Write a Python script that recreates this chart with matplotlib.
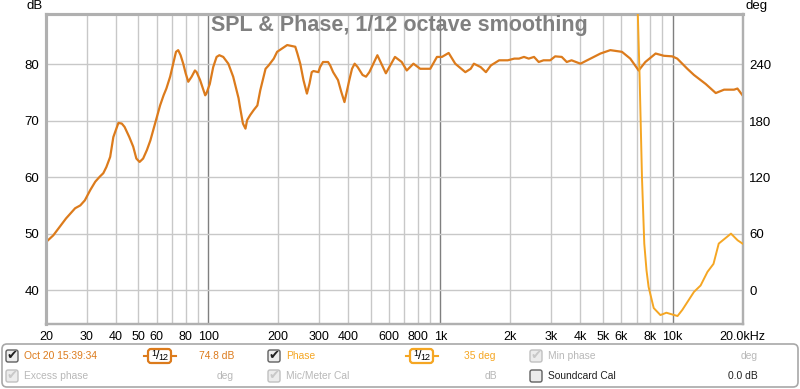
import matplotlib
matplotlib.use('Agg')
import matplotlib.pyplot as plt
from matplotlib.patches import FancyBboxPatch
from matplotlib.ticker import NullLocator

plt.rcParams['font.family'] = ['Liberation Sans', 'DejaVu Sans']

# SPL curve (Hz, dB)
spl_freq = [20, 21.5, 22.9, 24.4, 26.7, 28.1, 29.4, 31.0, 32.6, 34.1, 35.3, 36.4,
            37.8, 39.0, 41.0, 42.4, 43.6, 45.7, 47.5, 49.0, 50.6, 52.4, 54.4, 56.3,
            59.0, 62.0, 64.2, 66.0, 68.5, 70.6, 72.6, 74.2, 76.0, 78.0, 79.9, 82.0,
            84.8, 87.6, 89.1, 92.2, 94.8, 97.0, 98.1, 101.5, 105, 108.6, 111.6, 116,
            122, 128, 135, 137, 141, 144.6, 147, 151.5, 157, 162.7, 167.5, 176.5, 182,
            191.5, 197.9, 208, 218.7, 230, 237, 242, 249, 257, 266, 273, 279, 284,
            298, 303, 312, 328, 335, 345, 362, 374, 386, 405, 416, 427, 440, 462, 478,
            494, 510, 535, 582, 637, 681, 716, 765, 818, 904, 966, 1015, 1085, 1158,
            1280, 1350, 1393, 1490, 1570, 1650, 1790, 1950, 2080, 2180, 2290, 2400,
            2530, 2650, 2780, 2970, 3120, 3330, 3500, 3670, 4010, 4430, 4890, 5390,
            6050, 6570, 7140, 7630, 8450, 9170, 9960, 10470, 11570, 12360, 13890,
            15340, 16660, 18390, 19020, 20000]
spl_db = [48.5, 49.7, 51.2, 52.7, 54.5, 55.0, 55.9, 57.7, 59.2, 60.1, 60.7, 61.8,
          63.6, 67.1, 69.6, 69.5, 68.9, 67.1, 65.4, 63.3, 62.7, 63.3, 64.8, 66.5,
          69.5, 72.7, 74.5, 75.7, 77.8, 80.1, 82.2, 82.5, 81.6, 80.1, 78.4, 76.9,
          77.8, 78.9, 78.6, 77.2, 75.7, 74.5, 74.8, 76.5, 79.5, 81.3, 81.6, 81.3,
          80.1, 77.8, 74.0, 72.4, 69.5, 68.6, 70.1, 71.0, 71.9, 72.7, 75.4, 79.2, 79.8,
          81.0, 82.2, 82.8, 83.4, 83.2, 83.1, 81.9, 80.1, 77.2, 74.8, 76.6, 78.6, 78.8,
          78.6, 79.5, 80.4, 80.4, 79.8, 78.6, 77.2, 75.1, 73.3, 77.2, 79.2, 80.1, 79.5,
          78.1, 77.8, 78.6, 79.8, 81.6, 78.4, 81.3, 80.4, 78.9, 80.1, 79.2, 79.2,
          81.3, 81.3, 82.0, 80.1, 78.6, 79.2, 80.1, 79.5, 78.6, 79.8, 80.7, 80.7,
          81.0, 81.0, 81.3, 81.0, 81.3, 80.4, 80.7, 80.7, 81.4, 81.3, 80.4, 80.7,
          80.1, 81.0, 81.9, 82.5, 82.2, 81.0, 78.9, 80.4, 81.9, 81.5, 81.4, 81.0,
          79.2, 78.1, 76.5, 74.9, 75.5, 75.5, 75.7, 74.5]

# phase curve (Hz, deg), above the top of the scale before ~7 kHz
phase_freq = [6980, 7070, 7210, 7380, 7550, 7720, 7880, 8290, 8860, 9400, 10500,
              11010, 12360, 13200, 14130, 15000, 15800, 17840, 19060, 20000]
phase_deg = [360, 300, 226.5, 120, 49.6, 21, 3.5, -19, -26.5, -24, -27.5,
             -21, -1.8, 5, 19.5, 28, 49.6, 60.2, 53.1, 49.6]

tick_freq = [20, 30, 40, 50, 60, 80, 100, 200, 300, 400, 600, 800, 1000, 2000,
             3000, 4000, 5000, 6000, 8000, 10000, 20000]
tick_labels = ['20', '30', '40', '50', '60', '80', '100', '200', '300', '400',
               '600', '800', '1k', '2k', '3k', '4k', '5k', '6k', '8k', '10k',
               '20.0kHz']
db_ticks = [40, 50, 60, 70, 80]
deg_ticks = [0, 60, 120, 180, 240]

SPL_COL = '#dc7b1c'
PH_COL = '#f5a623'
GREY_TXT = '#b8b8b8'

W, H = 800, 389
fig = plt.figure(figsize=(8, 3.89), dpi=100, facecolor='white')


def px(x0, y0, x1, y1):
    return [x0 / W, 1 - y1 / H, (x1 - x0) / W, (y1 - y0) / H]


ax = fig.add_axes(px(46, 14, 742.5, 324))
ax.set_xscale('log')
ax.set_xlim(20, 20000)
ax.set_ylim(34, 88.9)

# grid: light lines each 1..9, darker at decades
for dec in [10, 100, 1000, 10000]:
    for m in range(1, 10):
        f = dec * m
        if 20 < f < 20000:
            ax.axvline(f, color='#7f7f7f' if m == 1 else '#c8c8c8', lw=1, zorder=1)
for v in db_ticks:
    ax.axhline(v, color='#c8c8c8', lw=1, zorder=1)

ax.plot(spl_freq, spl_db, color=SPL_COL, lw=1.6, zorder=3,
        solid_joinstyle='round')
ax.set_xticks(tick_freq, tick_labels)
ax.xaxis.set_minor_locator(NullLocator())
ax.set_yticks(db_ticks)
ax.tick_params(axis='x', length=0, pad=5, labelsize=9)
ax.tick_params(axis='y', length=0, pad=5, labelsize=9.5)

ax2 = ax.twinx()
ax2.set_ylim(-36, 294)
ax2.plot(phase_freq, phase_deg, color=PH_COL, lw=1.4, zorder=3,
         solid_joinstyle='round')
ax2.set_yticks(deg_ticks)
ax2.tick_params(axis='y', length=0, pad=5, labelsize=9.5)

for a in (ax, ax2):
    for side, sp in a.spines.items():
        sp.set_color('#b0b0b0')
        sp.set_linewidth(2.2 if side in ('left', 'top') else 1.6)

# overlay in pixel coordinates for title and the legend panel
ov = fig.add_axes([0, 0, 1, 1])
ov.set_xlim(0, W)
ov.set_ylim(H, 0)
ov.axis('off')

ov.text(211, 25, 'SPL & Phase, 1/12 octave smoothing', fontsize=15.5,
        fontweight='bold', color='#808080', va='center', ha='left')
ov.text(43, 6, 'dB', fontsize=9.5, ha='right', va='center')
ov.text(745, 6, 'deg', fontsize=9.5, ha='left', va='center')

ov.add_patch(FancyBboxPatch((2, 344), 796, 43,
                            boxstyle='round,pad=0,rounding_size=5',
                            fc='white', ec='#a8a8a8', lw=1.2))


def checkbox(x, yc, checked, active):
    ec = '#606060' if active else '#c0c0c0'
    ov.add_patch(FancyBboxPatch((x, yc - 6), 12, 12,
                                boxstyle='round,pad=0,rounding_size=2',
                                fc='#ececec', ec=ec, lw=1))
    if checked:
        ov.text(x + 6.5, yc, '✔', family=['DejaVu Sans'], fontsize=9.5,
                color='#202020' if active else '#c8c8c8', ha='center', va='center')


def smooth_icon(x, yc, col):
    ov.plot([x, x + 32], [yc, yc], color=col, lw=1.5)
    ov.add_patch(FancyBboxPatch((x + 4, yc - 7), 23, 14,
                                boxstyle='round,pad=0,rounding_size=3',
                                fc='white', ec=col, lw=1.6, zorder=3))
    ov.text(x + 10, yc - 2, '1', fontsize=6.5, ha='center', va='center', zorder=4)
    ov.text(x + 13.5, yc, '/', fontsize=9, ha='center', va='center', zorder=4)
    ov.text(x + 19.5, yc + 2, '12', fontsize=6.5, ha='center', va='center', zorder=4)


r1, r2 = 356, 376
fs = 7.4
checkbox(6, r1, True, True)
ov.text(24, r1, 'Oct 20 15:39:34', fontsize=fs, color=SPL_COL, va='center')
smooth_icon(144, r1, SPL_COL)
ov.text(234, r1, '74.8 dB', fontsize=fs, color=SPL_COL, va='center', ha='right')
checkbox(268, r1, True, True)
ov.text(286, r1, 'Phase', fontsize=fs, color=PH_COL, va='center')
smooth_icon(406, r1, PH_COL)
ov.text(496, r1, '35 deg', fontsize=fs, color=PH_COL, va='center', ha='right')
checkbox(530, r1, True, False)
ov.text(548, r1, 'Min phase', fontsize=fs, color=GREY_TXT, va='center')
ov.text(758, r1, 'deg', fontsize=fs, color=GREY_TXT, va='center', ha='right')

checkbox(6, r2, True, False)
ov.text(24, r2, 'Excess phase', fontsize=fs, color=GREY_TXT, va='center')
ov.text(234, r2, 'deg', fontsize=fs, color=GREY_TXT, va='center', ha='right')
checkbox(268, r2, True, False)
ov.text(286, r2, 'Mic/Meter Cal', fontsize=fs, color=GREY_TXT, va='center')
ov.text(497, r2, 'dB', fontsize=fs, color=GREY_TXT, va='center', ha='right')
checkbox(530, r2, False, True)
ov.text(548, r2, 'Soundcard Cal', fontsize=fs, color='#202020', va='center')
ov.text(758, r2, '0.0 dB', fontsize=fs, color='#202020', va='center', ha='right')

fig.savefig('out.png', dpi=100, facecolor='white')
